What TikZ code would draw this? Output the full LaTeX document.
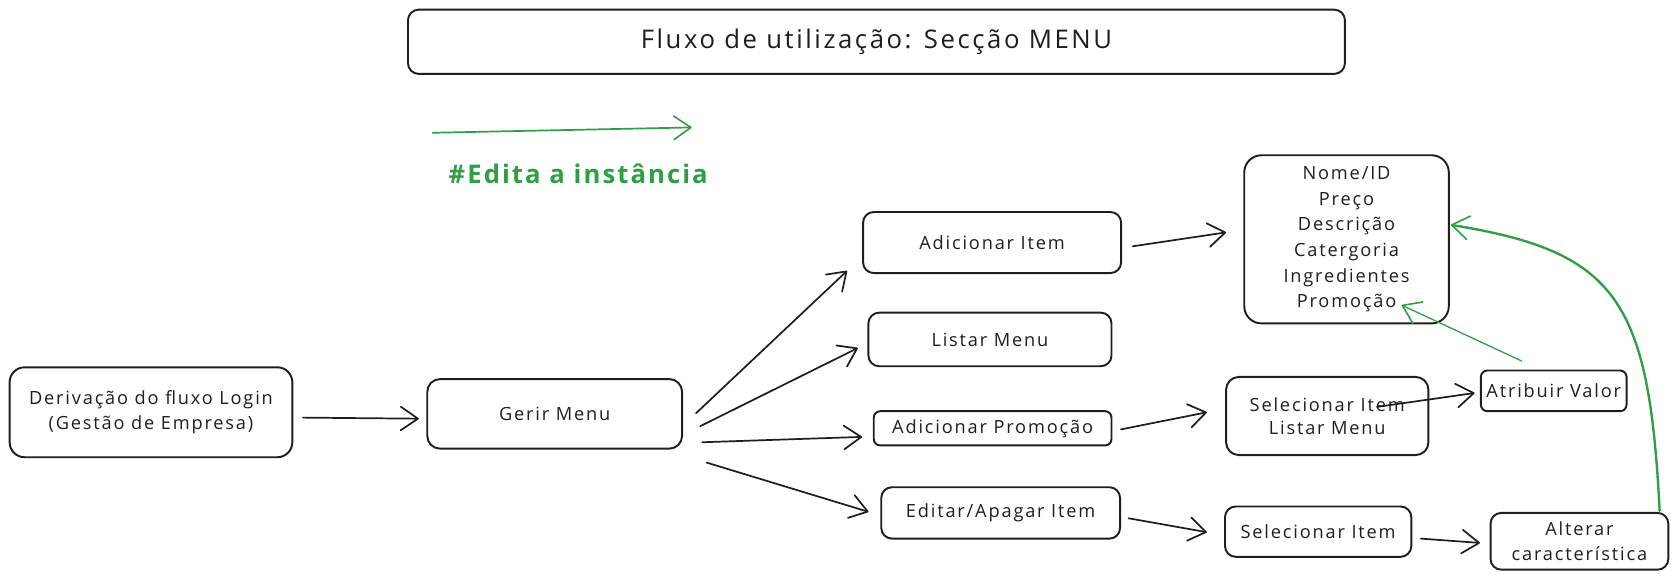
\documentclass[tikz,border=0pt]{standalone}
\usepackage{fontspec}
\setmainfont{Open Sans}[LetterSpace=10]
\usetikzlibrary{arrows.meta}
\definecolor{ink}{HTML}{1E1E1E}
\definecolor{grn}{HTML}{2F9E44}
\begin{document}
\begin{tikzpicture}[x=1pt,y=-1pt,
  box/.style={draw=ink, line width=1.8pt, rounded corners=12pt, align=center, inner sep=0pt,
    font=\fontsize{17}{23}\selectfont, text=ink},
  smallbox/.style={box, rounded corners=6pt},
  arr/.style={draw=ink, line width=1.6pt, line cap=round,
    -{Straight Barb[length=16pt,width=22pt,line width=1.6pt,round]}},
  garr/.style={draw=grn, line cap=round,
    -{Straight Barb[length=16pt,width=22pt,line width=1.5pt,round]}}]
\useasboundingbox (0,0) rectangle (1568,544.5);

% title
\node[box, rounded corners=10pt, minimum width=875pt, minimum height=60pt,
  font=\fontsize{24}{26}\selectfont] (title) at (818.5,39) {Fluxo de utilização: Secção MENU};

% legend
\coordinate (lgA) at (404,124);
\coordinate (lgB) at (646,119);
\draw[garr, line width=1.6pt] (lgA) -- (lgB);
\node[text=grn, font=\fontsize{24}{26}\selectfont\bfseries\addfontfeature{LetterSpace=8}, inner sep=0pt] (lgtext) at (540,162) {\#Edita a instância};

% nodes
\node[box, rounded corners=14pt, minimum width=264pt, minimum height=84pt] (deriv) at (141,385)
  {Derivação do fluxo Login\\(Gestão de Empresa)};
\node[box, minimum width=238pt, minimum height=65pt] (gerir) at (518,386.5) {Gerir Menu};
\node[box, rounded corners=10pt, minimum width=241pt, minimum height=57pt] (additem) at (926.5,226.5) {Adicionar Item};
\node[box, rounded corners=10pt, minimum width=227pt, minimum height=50pt] (listar) at (924.5,317) {Listar Menu};
\node[smallbox, minimum width=222pt, minimum height=32pt] (addpromo) at (927,400) {Adicionar Promoção};
\node[box, rounded corners=10pt, minimum width=223pt, minimum height=48pt] (editar) at (934.5,479) {Editar/Apagar Item};
\node[box, rounded corners=16pt, minimum width=191pt, minimum height=157pt,
  font=\fontsize{17}{24}\selectfont] (attrs) at (1257.5,223.5)
  {Nome/ID\\Preço\\Descrição\\Catergoria\\Ingredientes\\Promoção};
\node[box, rounded corners=12pt, minimum width=189pt, minimum height=73pt,
  font=\fontsize{17}{22}\selectfont] (selist) at (1239.5,388.5) {Selecionar Item\\Listar Menu};
\node[smallbox, minimum width=136pt, minimum height=38pt] (atrib) at (1451,365) {Atribuir Valor};
\node[box, rounded corners=10pt, minimum width=174pt, minimum height=47pt] (selitem) at (1231,496.5) {Selecionar Item};
\node[box, rounded corners=10pt, minimum width=166pt, minimum height=53pt,
  font=\fontsize{17}{24}\selectfont] (alterar) at (1475,505.5) {Alterar\\característica};

% black connectors
\draw[arr] ([shift={(9,5)}]deriv.east) -- ([shift={(-7,4.5)}]gerir.west);
\draw[arr] ([shift={(12,-0.5)}]gerir.east) -- ([shift={(-14,-3)}]additem.south west);
\draw[arr] ([shift={(16,11.5)}]gerir.east) -- ([shift={(-9,8)}]listar.west);
\draw[arr] ([shift={(18,26.5)}]gerir.east) -- ([shift={(-10,8)}]addpromo.west);
\draw[arr] ([shift={(22,45.5)}]gerir.east) -- ([shift={(-11,-1)}]editar.west);
\draw[arr] ([shift={(10,3.5)}]additem.east) -- ([shift={(-16,-6.5)}]attrs.west);
\draw[arr] ([shift={(8,1)}]addpromo.east) -- ([shift={(-17,-3.5)}]selist.west);
\draw[arr] ([shift={(-49,-8.5)}]selist.east) -- ([shift={(-5,2)}]atrib.west);
\draw[arr] ([shift={(7,5)}]editar.east) -- ([shift={(-16,0.5)}]selitem.west);
\draw[arr] ([shift={(8,6.5)}]selitem.east) -- ([shift={(-9,1.5)}]alterar.west);

% green connectors
\draw[garr, line width=1.2pt] ([shift={(-30,-8)}]atrib.north) -- ([shift={(-45,-18)}]attrs.south east);
\draw[garr, line width=2.2pt] ([shift={(-9,-1)}]alterar.north east)
  .. controls (1540,280) and (1510,235) .. ([shift={(1,-13.5)}]attrs.east);
\end{tikzpicture}
\end{document}
